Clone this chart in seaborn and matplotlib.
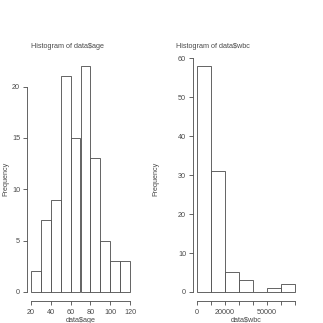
import numpy as np
import matplotlib
matplotlib.use('Agg')
import matplotlib.pyplot as plt
import seaborn as sns

# histogram of age: bin edges and counts
age_edges = [20, 30, 40, 50, 60, 70, 80, 90, 100, 110, 120]
age_counts = [2, 7, 9, 21, 15, 22, 13, 5, 3, 3]
age_xticks = [20, 40, 60, 80, 100, 120]
age_yticks = [0, 5, 10, 15, 20]

# histogram of wbc
wbc_edges = [0, 10000, 20000, 30000, 40000, 50000, 60000, 70000]
wbc_counts = [58, 31, 5, 3, 0, 1, 2]
wbc_xticks = [0, 10000, 20000, 30000, 40000, 50000, 60000, 70000]
wbc_xlabels = ["0", "", "20000", "", "", "50000", "", ""]
wbc_yticks = [0, 10, 20, 30, 40, 50, 60]

sns.set_style("ticks")
plt.rcParams['font.family'] = ['Liberation Sans', 'DejaVu Sans']

ink = '#4a4a4a'
W = H = 323


def ax_at(x0, y0, x1, y1):
    # pixel box (top-left origin) -> figure fraction
    return fig.add_axes([x0 / W, 1 - y1 / H, (x1 - x0) / W, (y1 - y0) / H])


def r_hist(ax, edges, counts, xticks, yticks, xlabels=None):
    mids = [(a + b) / 2 for a, b in zip(edges[:-1], edges[1:])]
    sns.histplot(x=mids, weights=counts, bins=edges, ax=ax, color='white',
                 edgecolor=ink, linewidth=0.6, alpha=1)
    span = edges[-1] - edges[0]
    ax.set_xlim(edges[0] - 0.04 * span, edges[-1] + 0.04 * span)
    top = max(counts)
    ax.set_ylim(-0.04 * top, top * 1.04)
    ax.set_xticks(xticks)
    if xlabels is not None:
        ax.set_xticklabels(xlabels)
    ax.set_yticks(yticks)
    for s in ['top', 'right']:
        ax.spines[s].set_visible(False)
    ax.spines['left'].set_bounds(yticks[0], yticks[-1])
    ax.spines['bottom'].set_bounds(xticks[0], xticks[-1])
    for s in ['left', 'bottom']:
        ax.spines[s].set_color(ink)
        ax.spines[s].set_linewidth(0.6)
    ax.tick_params(axis='both', length=3, width=0.6, color=ink, labelcolor=ink,
                   labelsize=5.2, pad=2)
    ax.xaxis.set_tick_params(pad=2.5)
    ax.set_ylabel('Frequency', fontsize=5.2, color=ink)
    ax.patch.set_alpha(0)


fig = plt.figure(figsize=(3.23, 3.23), dpi=100)

ax1 = ax_at(27, 57, 134, 301)
r_hist(ax1, age_edges, age_counts, age_xticks, age_yticks)
ax1.set_xlabel('data$age', fontsize=5.2, color=ink)
ax1.yaxis.set_label_coords(-18 / 107, 0.5)
ax1.xaxis.set_label_coords(0.5, -15.5 / 244)

ax2 = ax_at(193, 57, 299, 301)
r_hist(ax2, wbc_edges, wbc_counts, wbc_xticks, wbc_yticks, wbc_xlabels)
ax2.set_xlabel('data$wbc', fontsize=5.2, color=ink)
ax2.yaxis.set_label_coords(-34 / 106, 0.5)
ax2.xaxis.set_label_coords(0.5, -15.5 / 244)

fig.text(31 / W, 1 - 46 / H, 'Histogram of data$age', fontsize=5.2,
         color=ink, ha='left', va='center')
fig.text(176 / W, 1 - 46 / H, 'Histogram of data$wbc', fontsize=5.2,
         color=ink, ha='left', va='center')

fig.savefig('out.png', dpi=100, facecolor='white')
